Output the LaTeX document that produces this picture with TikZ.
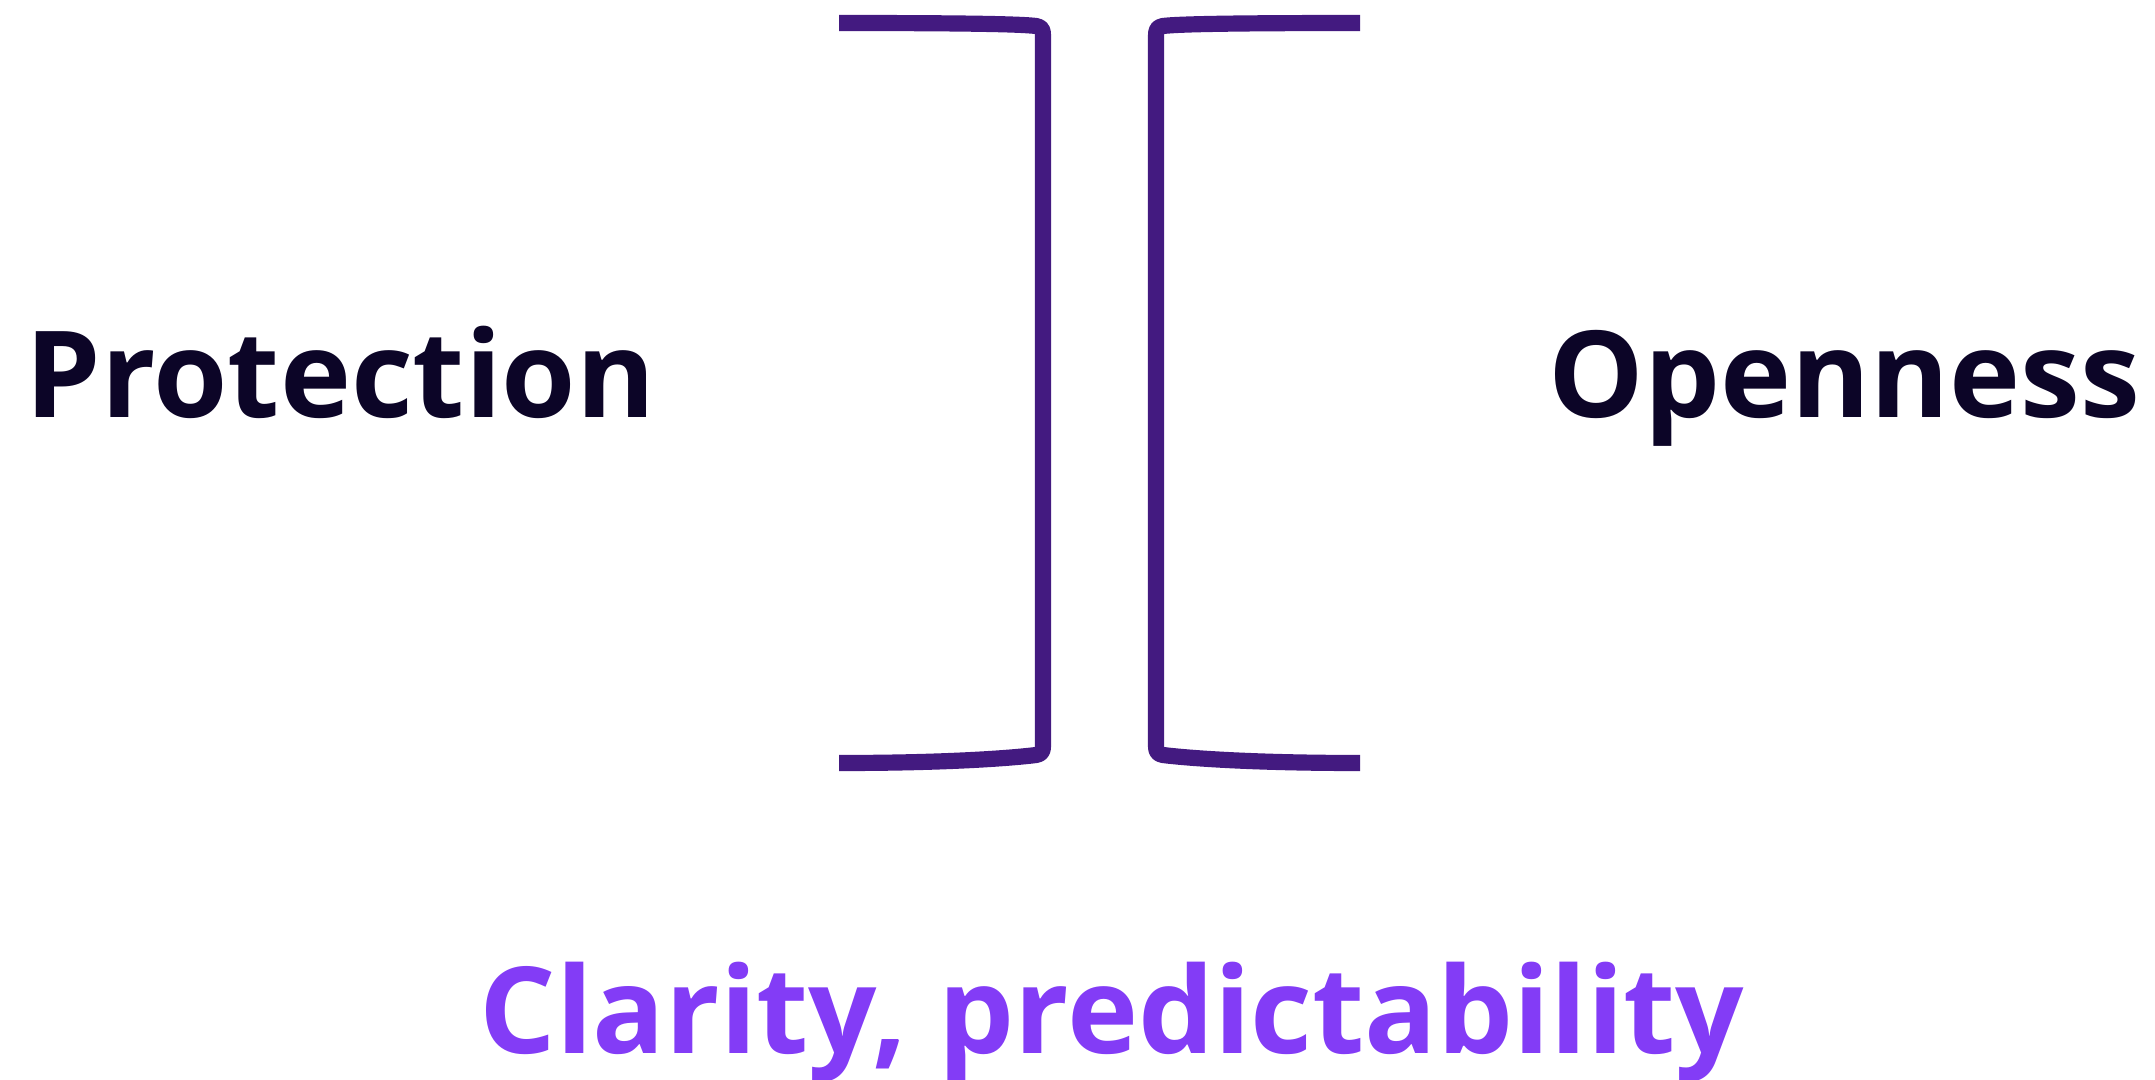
\documentclass[tikz,border=0pt]{standalone}
\usepackage{fontspec}
\setmainfont{Open Sans}
\usetikzlibrary{positioning}

\definecolor{bracketpurple}{HTML}{431A80}
\definecolor{inkdark}{HTML}{0C0527}
\definecolor{lightpurple}{HTML}{833CF6}

\begin{document}
\begin{tikzpicture}[x=0.01cm,y=-0.01cm,
  bracket/.style={draw=bracketpurple,line width=4.6pt,line join=round},
  label/.style={inner sep=0pt,font=\fontsize{34.2}{40}\selectfont\bfseries}]
\useasboundingbox (0,0) rectangle (2155,1079);
% left bracket
\draw [bracket] (839,23) .. controls (960,23) and (1020,24) .. (1036,26)
  .. controls (1042,27) and (1043,30) .. (1043,36) -- (1043,746)
  .. controls (1043,752) and (1041,754) .. (1036,755)
  .. controls (1020,757) and (960,763) .. (839,763);
% right bracket
\draw [bracket] (1360,23) .. controls (1239,23) and (1179,24) .. (1163,26)
  .. controls (1157,27) and (1156,30) .. (1156,36) -- (1156,746)
  .. controls (1156,752) and (1158,754) .. (1163,755)
  .. controls (1179,757) and (1239,763) .. (1360,763);
% labels
\node [label,text=inkdark,anchor=base west] (protection) at (25,417) {Protection};
\node [label,text=inkdark,anchor=base east] (openness) at (2141,417) {Openness};
\node [label,text=lightpurple,anchor=base] (clarity) at (1112,1053) {Clarity, predictability};
\end{tikzpicture}
\end{document}
